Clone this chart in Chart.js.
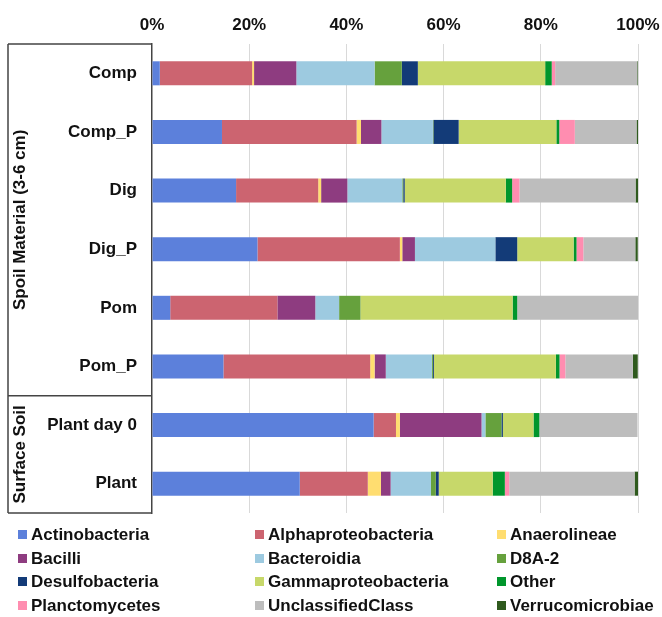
<!DOCTYPE html>
<html>
<head>
<meta charset="utf-8">
<script src="https://cdn.jsdelivr.net/npm/chart.js@4/dist/chart.umd.min.js"></script>
<style>
    body { margin: 0; background: #fff; }
    #wrap { position: relative; width: 662px; height: 617px; }
    #legend { position: absolute; left: 0; top: 0; width: 662px; height: 617px; pointer-events: none; }
    .item { position: absolute; font: bold 17px "Liberation Sans", Arial, sans-serif; color: #111; white-space: nowrap; line-height: 20px; }
    .item span { display: inline-block; width: 9px; height: 9px; margin-right: 4px; vertical-align: 1px; }
</style>
</head>
<body>
<div id="wrap">
    <canvas id="chart" width="662" height="617"></canvas>
    <div id="legend"></div>
</div>
<script>
var categories = ['Comp', 'Comp_P', 'Dig', 'Dig_P', 'Pom', 'Pom_P', 'Plant day 0', 'Plant'];
var tickLabels = ['0%', '20%', '40%', '60%', '80%', '100%'];
var groups = ['Spoil Material (3-6 cm)', 'Surface Soil'];

var classNames = ['Actinobacteria', 'Alphaproteobacteria', 'Anaerolineae', 'Bacilli', 'Bacteroidia', 'D8A-2',
    'Desulfobacteria', 'Gammaproteobacteria', 'Other', 'Planctomycetes', 'UnclassifiedClass', 'Verrucomicrobiae'];
var classColors = ['#5c80db', '#cc6470', '#ffdd70', '#8e3c80', '#9dcae0', '#66a13d',
    '#133b78', '#c7d86a', '#00962c', '#ff8db0', '#bdbdbd', '#2f5a1e'];

var actinobacteria      = [1.6, 14.4, 17.3, 21.7, 3.75, 14.7, 45.6, 30.4];
var alphaproteobacteria = [19.0, 27.7, 16.9, 29.3, 22.05, 30.2, 4.6, 14.0];
var anaerolineae        = [0.4, 0.9, 0.6, 0.5, 0, 0.9, 0.8, 2.7];
var bacilli             = [8.7, 4.2, 5.4, 2.6, 7.8, 2.3, 16.8, 2.0];
var bacteroidia         = [16.1, 10.6, 11.3, 16.55, 4.9, 9.5, 0.8, 8.3];
var d8a2                = [5.6, 0.1, 0.2, 0, 4.4, 0.2, 3.3, 1.0];
var desulfobacteria     = [3.3, 5.2, 0.3, 4.5, 0, 0.2, 0.3, 0.6];
var gammaproteobacteria = [26.2, 20.1, 20.8, 11.6, 31.3, 25.1, 6.3, 11.1];
var other               = [1.35, 0.6, 1.3, 0.6, 0.95, 0.75, 1.2, 2.5];
var planctomycetes      = [0.7, 3.2, 1.5, 1.4, 0, 1.2, 0, 0.9];
var unclassifiedClass   = [16.9, 12.7, 23.9, 10.7, 24.85, 13.9, 20.2, 25.8];
var verrucomicrobiae    = [0.2, 0.4, 0.6, 0.5, 0, 1.0, 0, 0.7];

var seriesValues = [actinobacteria, alphaproteobacteria, anaerolineae, bacilli, bacteroidia, d8a2,
    desulfobacteria, gammaproteobacteria, other, planctomycetes, unclassifiedClass, verrucomicrobiae];

var FONT = '"Liberation Sans", Arial, sans-serif';

var datasets = [];
for (var i = 0; i < classNames.length; i++) {
    datasets.push({
        label: classNames[i],
        data: seriesValues[i],
        backgroundColor: classColors[i],
        borderWidth: 0,
        barPercentage: 0.41,
        categoryPercentage: 1
    });
}

// bracket box with the rotated group names on the left
var groupBox = {
    id: 'groupBox',
    afterDraw: function(chart) {
        var ctx = chart.ctx;
        var area = chart.chartArea;
        var y = chart.scales.y;
        var sep = (y.getPixelForValue(5) + y.getPixelForValue(6)) / 2;
        var x0 = 8;
        ctx.save();
        ctx.strokeStyle = '#444';
        ctx.lineWidth = 1.5;
        ctx.beginPath();
        ctx.moveTo(x0, area.top); ctx.lineTo(area.left, area.top);
        ctx.moveTo(x0, sep); ctx.lineTo(area.left, sep);
        ctx.moveTo(x0, area.bottom); ctx.lineTo(area.left, area.bottom);
        ctx.moveTo(x0, area.top); ctx.lineTo(x0, area.bottom);
        ctx.stroke();

        ctx.fillStyle = '#111';
        ctx.font = 'bold 17px ' + FONT;
        ctx.textAlign = 'center';
        ctx.textBaseline = 'middle';
        var centers = [(area.top + sep) / 2, (sep + area.bottom) / 2];
        for (var g = 0; g < groups.length; g++) {
            ctx.save();
            ctx.translate(20, centers[g]);
            ctx.rotate(-Math.PI / 2);
            ctx.fillText(groups[g], 0, 0);
            ctx.restore();
        }
        ctx.restore();
    }
};

new Chart(document.getElementById('chart'), {
    type: 'bar',
    data: { labels: categories, datasets: datasets },
    options: {
        indexAxis: 'y',
        responsive: false,
        animation: false,
        layout: { padding: { left: 0, top: 0, right: 24, bottom: 104 } },
        plugins: { legend: { display: false }, tooltip: { enabled: false } },
        scales: {
            x: {
                position: 'top',
                stacked: true,
                min: 0,
                max: 100,
                afterFit: function(scale) {
                    scale.height = 44;
                    scale.paddingLeft = 0;
                    scale.paddingRight = 0;
                },
                ticks: {
                    stepSize: 20,
                    padding: 8,
                    color: '#111',
                    font: { family: FONT, size: 17, weight: 'bold' },
                    callback: function(v, idx) { return tickLabels[idx]; }
                },
                grid: {
                    drawTicks: false,
                    color: function(c) { return c.index === 0 ? 'rgba(0,0,0,0)' : '#d9d9d9'; }
                },
                border: { display: false }
            },
            y: {
                stacked: true,
                afterFit: function(scale) { scale.width = 152; },
                ticks: {
                    padding: 15,
                    color: '#111',
                    font: { family: FONT, size: 17, weight: 'bold' }
                },
                grid: { display: false, drawTicks: false },
                border: { display: true, color: '#444', width: 1.5 }
            }
        }
    },
    plugins: [groupBox]
});

// legend in three columns under the chart
var legend = document.getElementById('legend');
var colX = [18, 255, 497];
for (var k = 0; k < classNames.length; k++) {
    var div = document.createElement('div');
    div.className = 'item';
    div.style.left = colX[k % 3] + 'px';
    div.style.top = (525 + Math.floor(k / 3) * 23.7) + 'px';
    div.innerHTML = '<span style="background:' + classColors[k] + '"></span>' + classNames[k];
    legend.appendChild(div);
}
</script>
</body>
</html>
